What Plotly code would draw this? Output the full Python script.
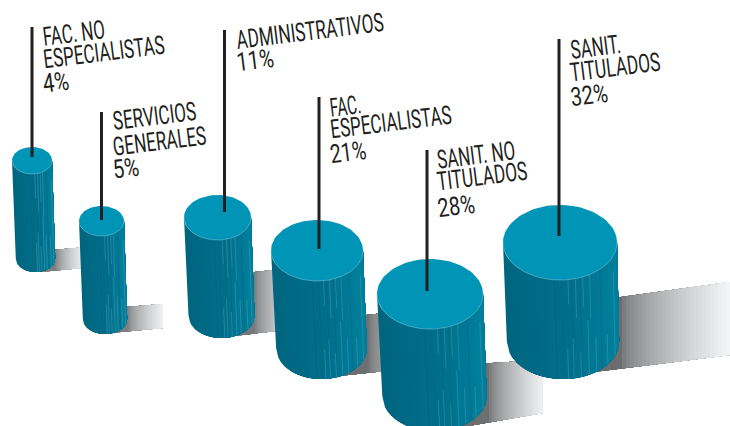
import math
import json
import plotly.graph_objects as go

# ---- data ----
categories = ["FAC. NO ESPECIALISTAS", "SERVICIOS GENERALES", "ADMINISTRATIVOS",
              "FAC. ESPECIALISTAS", "SANIT. NO TITULADOS", "SANIT. TITULADOS"]
values = [4, 5, 11, 21, 28, 32]
label_lines = [["FAC. NO", "ESPECIALISTAS"], ["SERVICIOS", "GENERALES"], ["ADMINISTRATIVOS"],
               ["FAC.", "ESPECIALISTAS"], ["SANIT. NO", "TITULADOS"], ["SANIT.", "TITULADOS"]]

# ---- drawing geometry (picture pixels) ----
top_cx = [32, 101.5, 217.5, 317, 430, 560]
top_cy = [160.5, 221, 217.5, 250.5, 294, 242.5]
rx = [20, 22.5, 33.5, 46, 53, 57]
ry = [13.5, 15, 22.5, 30.5, 35, 37.5]
bot_cx = [35.5, 105, 221.5, 321.5, 434.5, 563]
bot_base = [272, 334, 338, 379, 431, 379]
leader_x = [32, 101.5, 224.5, 319, 427, 559]
leader_top = [27, 112, 30, 97, 150, 39]
leader_end = [157, 220, 212, 249, 291, 236]
text_left = [[43, 43, 43], [113, 113, 113], [236, 236], [330, 330, 330], [437, 437, 437], [570, 570, 570]]
text_right = [[105, 164, 69], [196, 206, 139], [383, 273], [361, 451, 366], [515, 527, 474], [620, 660, 607]]
text_y = [[33, 52, 82], [116, 141, 168], [31, 60], [106, 122, 152], [155, 176, 206], [47, 67, 95]]
# shadow: x start, x end, top y start/end, bottom y start/end, dark level, light level
sh_x0 = [40, 100, 225, 320, 440, 570]
sh_x1 = [82, 163, 285, 385, 543, 730]
sh_gx = [55, 127, 254, 367, 487, 618]
sh_t0 = [251, 309, 275, 320, 366, 304]
sh_t1 = [247.5, 304, 269, 313, 360, 282]
sh_b0 = [272, 334, 337, 378, 431, 375]
sh_b1 = [268, 328, 330, 371, 413, 355]
sh_dark = [125, 125, 120, 110, 110, 108]
sh_light = [238, 242, 215, 160, 243, 247]
streaks = [0.1, 0.2, 0.33, 0.47, 0.6, 0.8, 0.93]
streak_len = [0.3, 0.4, 0.25, 0.55, 0.35, 0.3, 0.85]
rim_streaks = [0.14, 0.27, 0.4, 0.52]
rim_len = [0.25, 0.4, 0.3, 0.45]
dark_streaks = [-0.1, 0.03, 0.2, 0.35, 0.7]

fig = go.Figure()


def poly(xs, ys, color):
    fig.add_trace(go.Scatter(x=xs, y=ys, mode="lines", fill="toself", fillcolor=color,
                             line=dict(color=color, width=0), hoverinfo="skip", showlegend=False))


def line(xs, ys, color, width):
    fig.add_trace(go.Scatter(x=xs, y=ys, mode="lines", line=dict(color=color, width=width),
                             hoverinfo="skip", showlegend=False))


def mix(a, b, t):
    return "rgb(%d,%d,%d)" % tuple(round(a[k] + (b[k] - a[k]) * t) for k in range(3))


def ellipse_points(cx, cy, a, b, t0, t1, n=60):
    pts = [t0 + (t1 - t0) * i / n for i in range(n + 1)]
    return [cx + a * math.cos(p) for p in pts], [cy + b * math.sin(p) for p in pts]


for i in range(6):
    x0, x1, gx = sh_x0[i], sh_x1[i], sh_gx[i]
    f = lambda x, s, e: s + (e - s) * (x - x0) / (x1 - x0)
    n = 40
    for k in range(n):
        # each layer reaches the far end, so no seams show between steps
        xa = x0 + (x1 - x0) * k / n
        g = max(0, (xa - gx) / (x1 - gx))
        lv = sh_dark[i] + (sh_light[i] - sh_dark[i]) * g ** 0.65
        c = "rgb(%d,%d,%d)" % (lv, lv + 1, lv + 3)
        poly([xa, x1, x1, xa, xa],
             [f(xa, sh_t0[i], sh_t1[i]), sh_t1[i], sh_b1[i], f(xa, sh_b0[i], sh_b1[i]),
              f(xa, sh_t0[i], sh_t1[i])], c)

DARK = (0, 101, 127)
MID = (0, 112, 141)
RIGHT = (0, 128, 157)
TOP = (0, 149, 182)
EDGE = (115, 190, 208)

for i in range(6):
    cx, cy, a, b = top_cx[i], top_cy[i], rx[i], ry[i]
    bx = bot_cx[i]
    by = bot_base[i] - b
    bw = a * 0.985
    n = 24

    def rim(t):
        return math.sqrt(max(0, 1 - t * t))

    for k in range(n):
        t0 = -1 + 2 * k / n
        pts = [t0 + (1 - t0) * j / 40 for j in range(41)]
        xs = [cx + a * p for p in pts] + [bx + bw * p for p in reversed(pts)]
        ys = [cy + b * rim(p) for p in pts] + [by + b * rim(p) for p in reversed(pts)]
        m = t0 + 1 / n
        col = mix(DARK, MID, (m + 1) / 1.2) if m < 0.2 else mix(MID, RIGHT, (m - 0.2) / 0.8)
        poly(xs + xs[:1], ys + ys[:1], col)
    for t in dark_streaks:
        line([cx + a * t, bx + bw * t], [cy + b * rim(t), by + b * rim(t)], "rgb(0,96,120)", 0.5)
    for t, ln in zip(streaks, streak_len):
        xb, yb = bx + bw * t, by + b * rim(t)
        xt, yt = cx + a * t, cy + b * rim(t)
        line([xb + (xt - xb) * ln, xb], [yb + (yt - yb) * ln, yb], "rgb(70,158,180)", 0.5)
    for t, ln in zip(rim_streaks, rim_len):
        xb, yb = bx + bw * t, by + b * rim(t)
        xt, yt = cx + a * t, cy + b * rim(t)
        line([xt, xt + (xb - xt) * ln], [yt, yt + (yb - yt) * ln], "rgb(70,150,172)", 0.5)
    ex, ey = ellipse_points(cx, cy, a, b, 0, 2 * math.pi, 90)
    poly(ex, ey, mix(TOP, TOP, 0))
    ex, ey = ellipse_points(cx, cy, a, b, 0.02, math.pi - 0.02, 50)
    line(ex, ey, mix(EDGE, EDGE, 0), 0.6)
    line([leader_x[i], leader_x[i]], [leader_top[i], leader_end[i]], "#231f20", 3)

anns = []
fit = []
for i in range(6):
    lines = label_lines[i] + [f"{values[i]}%"]
    for text, y, l, r in zip(lines, text_y[i], text_left[i], text_right[i]):
        anns.append(dict(x=(l + r) / 2, y=y, xref="x", yref="y", text=text, showarrow=False,
                         xanchor="center", yanchor="middle", textangle=-7,
                         font=dict(family="Roboto, sans-serif", size=26, color="#231f20")))
        fit.append(round((r - l) / math.cos(math.radians(7)), 1))

fig.update_layout(width=730, height=426, margin=dict(l=0, r=0, t=0, b=0),
                  paper_bgcolor="white", plot_bgcolor="white", showlegend=False,
                  xaxis=dict(range=[0, 730], visible=False, fixedrange=True),
                  yaxis=dict(range=[426, 0], visible=False, fixedrange=True),
                  annotations=anns)
post = ("document.body.style.margin='0';"
        "var w=" + json.dumps(fit) + ";"
        "document.querySelectorAll('text.annotation-text').forEach(function(t,i){"
        "t.setAttribute('textLength',w[i]);t.setAttribute('lengthAdjust','spacingAndGlyphs');});")
fig.write_html("out.html", config=dict(displayModeBar=False), post_script=post)
